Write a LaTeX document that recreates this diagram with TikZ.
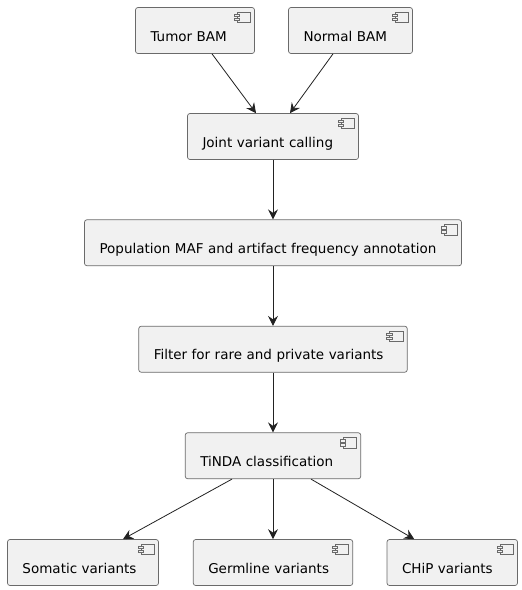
\documentclass[tikz,border=0pt]{standalone}
\usepackage{fontspec}
\setmainfont{DejaVu Sans}
\usetikzlibrary{arrows.meta}
\definecolor{boxfill}{HTML}{F1F1F1}
\definecolor{boxline}{HTML}{6A6A6A}
\definecolor{linecol}{HTML}{222222}
\tikzset{
  x=1pt,y=-1pt,
  comp/.style={draw=boxline,fill=boxfill,line width=0.7pt,rounded corners=2.5pt,
    minimum height=46pt,inner xsep=15pt,inner ysep=0pt,align=left,
    font=\fontsize{13.5pt}{15pt}\selectfont,text=black},
  flow/.style={draw=linecol,line width=0.8pt,-{Stealth[length=10pt,width=10pt,inset=3.5pt]}},
  icon/.style={draw=boxline,fill=boxfill,line width=0.5pt}
}
% name, centre x, centre y, width, text
\newcommand\compbox[5]{%
  \node[comp,text width=#4pt-30pt] (#1) at (#2,#3) {\raisebox{-10.5pt}[0pt][0pt]{#5}};
  \draw[icon] ([xshift=-18pt,yshift=-5pt]#1.north east) rectangle ([xshift=-4.5pt,yshift=-15.5pt]#1.north east);
  \draw[icon] ([xshift=-21pt,yshift=-7pt]#1.north east) rectangle ([xshift=-15.5pt,yshift=-9.5pt]#1.north east);
  \draw[icon] ([xshift=-21pt,yshift=-11pt]#1.north east) rectangle ([xshift=-15.5pt,yshift=-13.5pt]#1.north east);
}
\begin{document}
\begin{tikzpicture}
\useasboundingbox[fill=white] (0,0) rectangle (522,590);
\compbox{tumor}{195}{30.5}{119}{Tumor BAM}
\compbox{normal}{350.5}{30.5}{124}{Normal BAM}
\compbox{joint}{273}{136.5}{171}{Joint variant calling}
\compbox{pop}{273}{242.75}{377}{Population MAF and artifact frequency annotation}
\compbox{filter}{273}{349.25}{268.5}{Filter for rare and private variants}
\compbox{tinda}{273}{455.75}{175.5}{TiNDA classification}
\compbox{somatic}{83}{562.5}{151}{Somatic variants}
\compbox{germline}{273}{562.5}{159.5}{Germline variants}
\compbox{chip}{452.25}{562.5}{130.5}{CHiP variants}
\draw[flow] ([xshift=17pt]tumor.south) -- ([xshift=-17pt]joint.north);
\draw[flow] ([xshift=-17.5pt]normal.south) -- ([xshift=17pt]joint.north);
\draw[flow] (joint.south) -- (pop.north);
\draw[flow] (pop.south) -- (filter.north);
\draw[flow] (filter.south) -- (tinda.north);
\draw[flow] ([xshift=-41pt]tinda.south) -- ([xshift=40pt]somatic.north);
\draw[flow] (tinda.south) -- (germline.north);
\draw[flow] ([xshift=38pt]tinda.south) -- ([xshift=-38pt]chip.north);
\end{tikzpicture}
\end{document}
